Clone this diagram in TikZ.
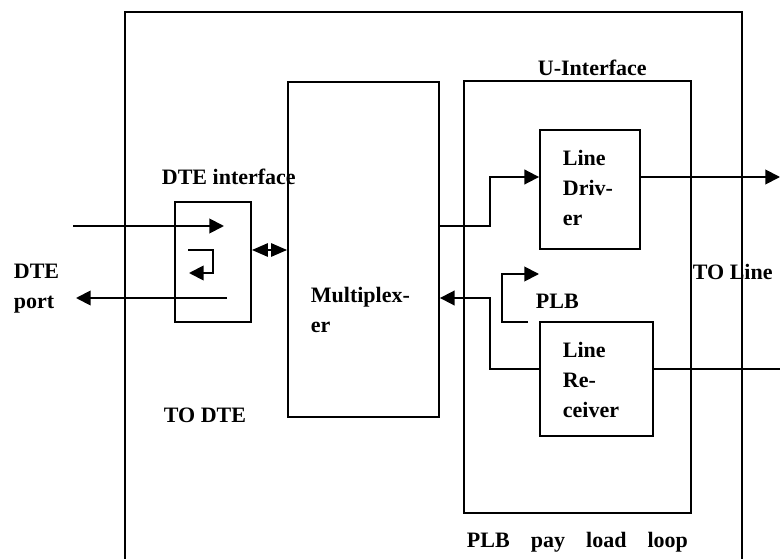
\documentclass[tikz,border=0pt]{standalone}
\usepackage{fontspec}
\setmainfont{Liberation Serif}
\usetikzlibrary{arrows.meta}
\begin{document}
\begin{tikzpicture}[x=0.75pt,y=-0.75pt,line width=1.4pt,
  box/.style={draw,rectangle,inner sep=0pt,line width=1.4pt},
  lbl/.style={font=\bfseries\fontsize{16.5}{22.5}\selectfont,inner sep=0pt,anchor=base west,align=left},
  arr/.style={-{Triangle[length=11pt,width=11pt]}},
  darr/.style={{Triangle[length=12pt,width=10pt]}-{Triangle[length=12pt,width=10pt]}}]
\useasboundingbox (0,0) rectangle (780,559);
% outer frame (cut at the bottom)
\draw (125,565) -- (125,12) -- (742,12) -- (742,565);
% boxes
\node[box,minimum width=57pt,minimum height=90pt] (dte) at (213,262) {};
\node[box,minimum width=113.25pt,minimum height=251.25pt] (mux) at (363.5,249.5) {};
\node[box,minimum width=170.25pt,minimum height=324pt] (uif) at (577.5,297) {};
\node[box,minimum width=75pt,minimum height=89.25pt] (drv) at (590,189.5) {};
\node[box,minimum width=84.75pt,minimum height=85.5pt] (rcv) at (596.5,379) {};
% labels (multi-line labels: base = baseline of last line)
\node[lbl] (tdteif) at (161,185) {DTE interface};
\node[lbl] (tport) at (13,308) {DTE\\port};
\node[lbl] (tmux) at (310,332) {Multiplex-\\er};
\node[lbl] (tdrv) at (562,226) {Line\\Driv-\\er};
\node[lbl] (trcv) at (562,417) {Line\\Re-\\ceiver};
\node[lbl] (tplb) at (535,308) {PLB};
\node[lbl] (ttoline) at (692,279) {TO Line};
\node[lbl] (ttodte) at (163,422) {TO DTE};
\node[lbl] (tuif) at (537,76) {U-Interface};
\node[lbl] (tloop) at (466,547) {\makebox[165.75pt][s]{PLB pay load loop}};
% DTE side connectors
\coordinate (tin) at (73,226);
\coordinate (tinEnd) at (224,226);
\draw[arr] (tin) -- (tinEnd);
\coordinate (toutS) at (227,298);
\coordinate (tout) at (76,298);
\draw[arr] (toutS) -- (tout);
\coordinate (l1) at (188,250);
\coordinate (l2) at (213,273);
\coordinate (l3) at (189,273);
\draw[arr] (l1) -| (l2) -- (l3);
\coordinate (dd) at (270,250);
\draw[darr] (dte.east |- dd) -- (mux.west |- dd);
% multiplexer to line driver
\coordinate (j1) at (490,226);
\coordinate (drvout) at (780,177);
\draw[arr] (mux.east |- j1) -- (j1) |- (drv.west |- drvout);
\draw[arr] (drv.east |- drvout) -- (drvout);
% line receiver to multiplexer
\coordinate (rcvin) at (780,369);
\coordinate (j2) at (490,298);
\draw (rcvin) -- (rcv.east |- rcvin);
\draw[arr] (rcv.west |- rcvin) -| (j2) -- (mux.east |- j2);
% PLB loop
\coordinate (p1) at (528,322);
\coordinate (p2) at (502,274);
\coordinate (p3) at (539,274);
\draw[arr] (p1) -| (p2) -- (p3);
\end{tikzpicture}
\end{document}
